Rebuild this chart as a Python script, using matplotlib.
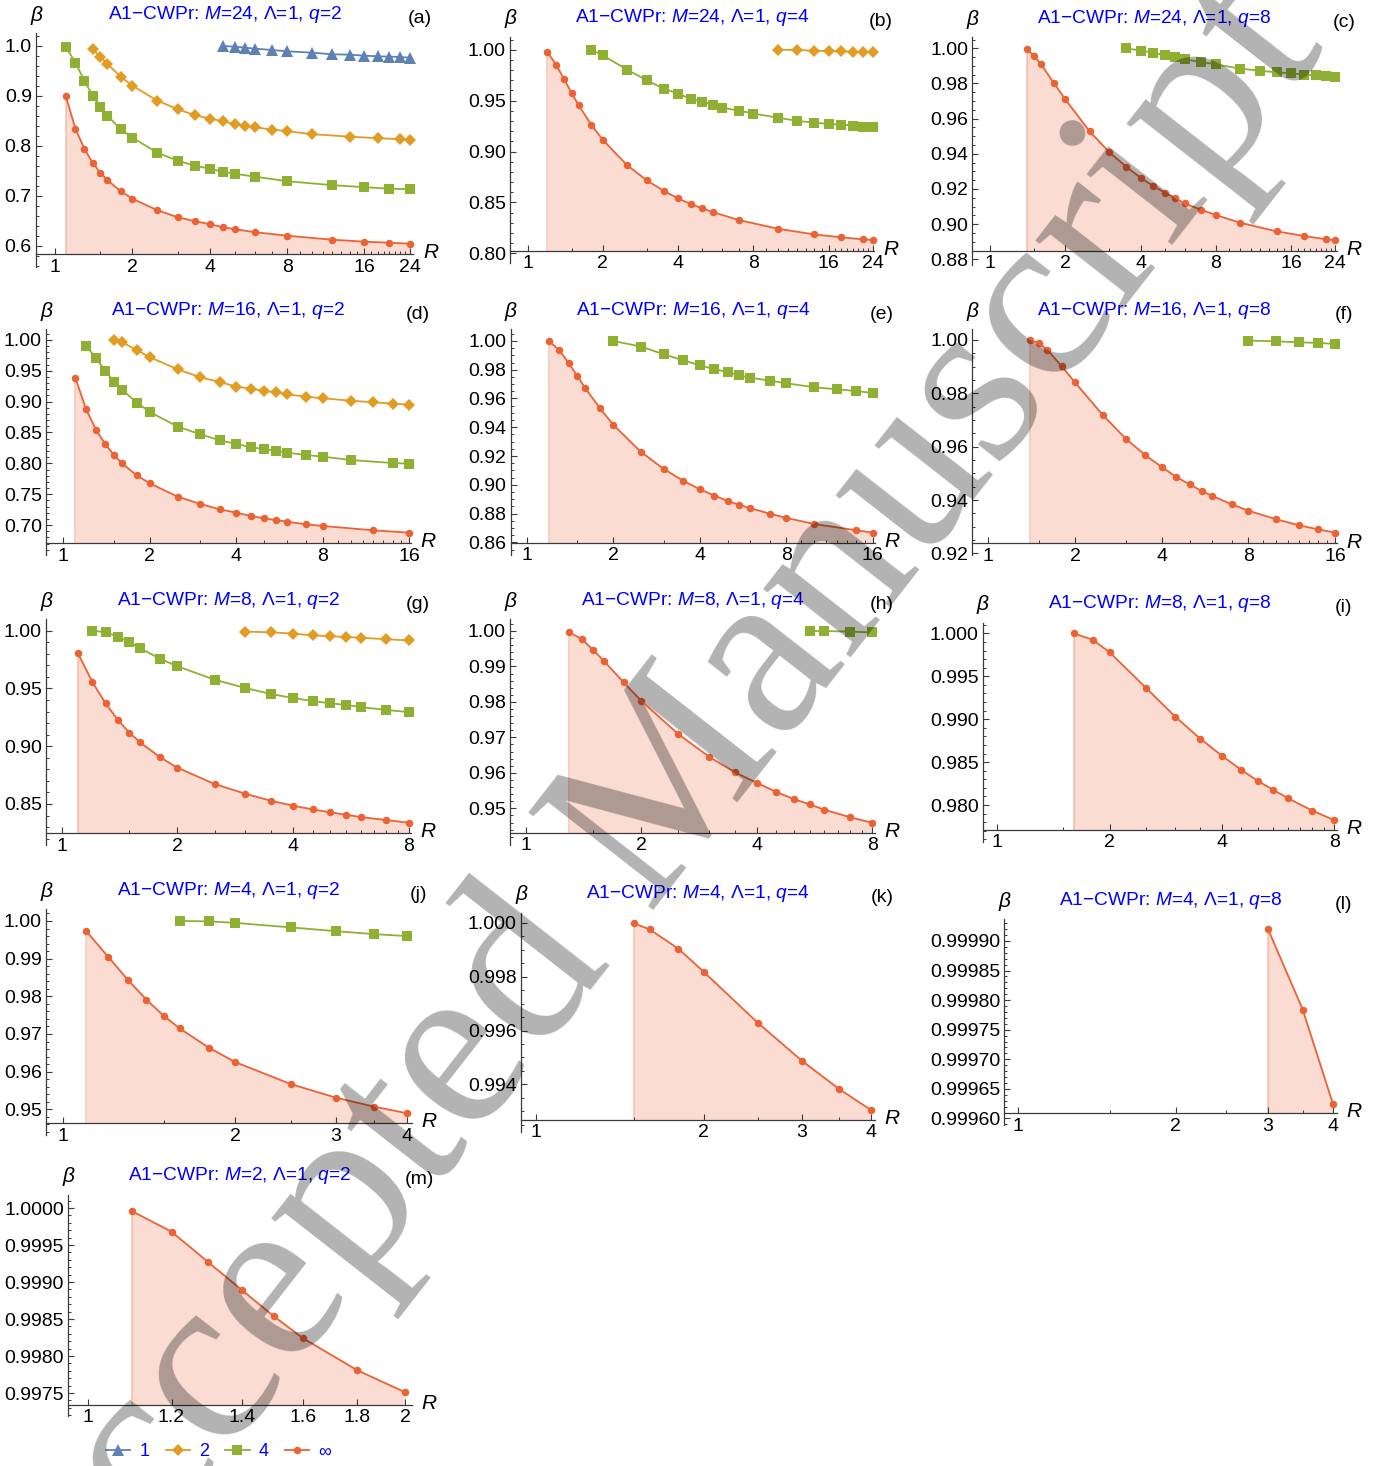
import numpy as np
import matplotlib
matplotlib.use("Agg")
import matplotlib.pyplot as plt
from matplotlib.ticker import FixedLocator, FixedFormatter, NullFormatter

plt.rcParams['font.family'] = ['Liberation Sans', 'DejaVu Sans']
plt.rcParams['mathtext.fontset'] = 'custom'
plt.rcParams['mathtext.rm'] = 'Liberation Sans'
plt.rcParams['mathtext.it'] = 'Liberation Sans:italic'
plt.rcParams['mathtext.bf'] = 'Liberation Sans:bold'

# ---------------- data: beta versus R for each (M, q) ----------------
# (a) M=24, q=2
R_a_1 = [4.5, 5, 5.5, 6, 7, 8, 10, 12, 14, 16, 18, 20, 22, 24]
B_a_1 = [0.9993, 0.998, 0.996, 0.994, 0.9913, 0.9887, 0.986, 0.9827, 0.982, 0.980, 0.9787, 0.978, 0.9773, 0.976]
R_a_2 = [1.4, 1.5, 1.6, 1.8, 2, 2.5, 3, 3.5, 4, 4.5, 5, 5.5, 6, 7, 8, 10, 14, 18, 22, 24]
B_a_2 = [0.993, 0.978, 0.963, 0.938, 0.920, 0.890, 0.873, 0.861, 0.854, 0.849, 0.843, 0.839, 0.837, 0.832, 0.829, 0.823, 0.818, 0.815, 0.813, 0.812]
R_a_4 = [1.1, 1.2, 1.3, 1.4, 1.5, 1.6, 1.8, 2, 2.5, 3, 3.5, 4, 4.5, 5, 6, 8, 12, 16, 20, 24]
B_a_4 = [0.998, 0.966, 0.930, 0.900, 0.878, 0.860, 0.833, 0.816, 0.786, 0.770, 0.760, 0.754, 0.748, 0.744, 0.738, 0.729, 0.721, 0.717, 0.714, 0.713]
R_a_inf = [1.1, 1.2, 1.3, 1.4, 1.5, 1.6, 1.8, 2, 2.5, 3, 3.5, 4, 4.5, 5, 6, 8, 12, 16, 20, 24]
B_a_inf = [0.900, 0.834, 0.794, 0.766, 0.746, 0.731, 0.709, 0.694, 0.671, 0.657, 0.649, 0.643, 0.637, 0.633, 0.627, 0.620, 0.612, 0.608, 0.606, 0.604]

# (b) M=24, q=4
R_b_2 = [10, 12, 14, 16, 18, 20, 22, 24]
B_b_2 = [1.000, 0.9997, 0.9990, 0.9987, 0.9984, 0.9980, 0.9977, 0.9977]
R_b_4 = [1.8, 2, 2.5, 3, 3.5, 4, 4.5, 5, 5.5, 6, 7, 8, 10, 12, 14, 16, 18, 20, 22, 24]
B_b_4 = [1.000, 0.9944, 0.9804, 0.9699, 0.9618, 0.9569, 0.9516, 0.9490, 0.9461, 0.9431, 0.9402, 0.9373, 0.9333, 0.9301, 0.9284, 0.9271, 0.9265, 0.9255, 0.9245, 0.9239]
R_b_inf = [1.2, 1.3, 1.4, 1.5, 1.6, 1.8, 2, 2.5, 3, 3.5, 4, 4.5, 5, 5.5, 7, 10, 14, 18, 22, 24]
B_b_inf = [0.9977, 0.9853, 0.9709, 0.9575, 0.9454, 0.9261, 0.9114, 0.8866, 0.8716, 0.8614, 0.8539, 0.8484, 0.8441, 0.8405, 0.8327, 0.8242, 0.8186, 0.8157, 0.8137, 0.8131]

# (c) M=24, q=8
R_c_4 = [3.5, 4, 4.5, 5, 5.5, 6, 7, 8, 10, 12, 14, 16, 18, 20, 22, 24]
B_c_4 = [1.000, 0.9987, 0.9975, 0.9960, 0.9949, 0.9937, 0.9922, 0.9909, 0.9884, 0.9873, 0.9863, 0.9858, 0.9850, 0.9846, 0.9841, 0.9835]
R_c_inf = [1.4, 1.5, 1.6, 1.8, 2, 2.5, 3, 3.5, 4, 4.5, 5, 5.5, 6, 7, 8, 10, 14, 18, 22, 24]
B_c_inf = [0.9994, 0.9958, 0.9909, 0.9803, 0.9710, 0.9528, 0.9409, 0.9327, 0.9264, 0.9217, 0.9179, 0.9149, 0.9118, 0.9081, 0.9052, 0.9008, 0.8959, 0.8933, 0.8914, 0.8908]

# (d) M=16, q=2
R_d_2 = [1.5, 1.6, 1.8, 2, 2.5, 3, 3.5, 4, 4.5, 5, 5.5, 6, 7, 8, 10, 12, 14, 16]
B_d_2 = [1.000, 0.9962, 0.9838, 0.9719, 0.9524, 0.9395, 0.9319, 0.9243, 0.9211, 0.9173, 0.9151, 0.9119, 0.9081, 0.9054, 0.9016, 0.8989, 0.8968, 0.8951]
R_d_4 = [1.2, 1.3, 1.4, 1.5, 1.6, 1.8, 2, 2.5, 3, 3.5, 4, 4.5, 5, 5.5, 6, 7, 8, 10, 14, 16]
B_d_4 = [0.9903, 0.9703, 0.9497, 0.9324, 0.9195, 0.8984, 0.8832, 0.8595, 0.8470, 0.8373, 0.8314, 0.8259, 0.8232, 0.8200, 0.8173, 0.8135, 0.8108, 0.8054, 0.8005, 0.7995]
R_d_inf = [1.1, 1.2, 1.3, 1.4, 1.5, 1.6, 1.8, 2, 2.5, 3, 3.5, 4, 4.5, 5, 5.5, 6, 7, 8, 12, 16]
B_d_inf = [0.9389, 0.8876, 0.8541, 0.8308, 0.8135, 0.8000, 0.7805, 0.7676, 0.7459, 0.7341, 0.7254, 0.7200, 0.7146, 0.7108, 0.7081, 0.7054, 0.7011, 0.6984, 0.6914, 0.6876]

# (e) M=16, q=4
R_e_4 = [2, 2.5, 3, 3.5, 4, 4.5, 5, 5.5, 6, 7, 8, 10, 12, 14, 16]
B_e_4 = [1.000, 0.9961, 0.9907, 0.9866, 0.9831, 0.9803, 0.9785, 0.9761, 0.9745, 0.9724, 0.9706, 0.9678, 0.9664, 0.9652, 0.9638]
R_e_inf = [1.2, 1.3, 1.4, 1.5, 1.6, 1.8, 2, 2.5, 3, 3.5, 4, 4.5, 5, 5.5, 6, 7, 8, 10, 14, 16]
B_e_inf = [0.9998, 0.9935, 0.9847, 0.9757, 0.9671, 0.9532, 0.9418, 0.9228, 0.9110, 0.9029, 0.8969, 0.8925, 0.8888, 0.8860, 0.8837, 0.8800, 0.8770, 0.8728, 0.8684, 0.8668]

# (f) M=16, q=8
R_f_4 = [8, 10, 12, 14, 16]
B_f_4 = [0.99975, 0.9995, 0.9991, 0.9989, 0.9985]
R_f_inf = [1.4, 1.5, 1.6, 1.8, 2, 2.5, 3, 3.5, 4, 4.5, 5, 5.5, 6, 7, 8, 10, 12, 14, 16]
B_f_inf = [0.9999, 0.9988, 0.9964, 0.9901, 0.9841, 0.9718, 0.9630, 0.9569, 0.9524, 0.9486, 0.9459, 0.9434, 0.9415, 0.9384, 0.9360, 0.9328, 0.9305, 0.9290, 0.9278]

# (g) M=8, q=2
R_g_2 = [3, 3.5, 4, 4.5, 5, 5.5, 6, 7, 8]
B_g_2 = [0.9991, 0.9986, 0.9974, 0.9959, 0.9951, 0.9945, 0.9939, 0.9925, 0.9916]
R_g_4 = [1.2, 1.3, 1.4, 1.5, 1.6, 1.8, 2, 2.5, 3, 3.5, 4, 4.5, 5, 5.5, 6, 7, 8]
B_g_4 = [1.000, 0.9986, 0.9948, 0.9899, 0.9847, 0.9758, 0.9691, 0.9576, 0.9504, 0.9452, 0.9417, 0.9391, 0.9371, 0.9357, 0.9339, 0.9313, 0.9296]
R_g_inf = [1.1, 1.2, 1.3, 1.4, 1.5, 1.6, 1.8, 2, 2.5, 3, 3.5, 4, 4.5, 5, 5.5, 6, 7, 8]
B_g_inf = [0.9810, 0.9559, 0.9371, 0.9227, 0.9117, 0.9033, 0.8906, 0.8814, 0.8673, 0.8589, 0.8528, 0.8485, 0.8453, 0.8428, 0.8407, 0.8387, 0.8361, 0.8338]

# (h) M=8, q=4
R_h_4 = [5.5, 6, 7, 8]
B_h_4 = [1.000, 1.000, 0.9998, 0.9996]
R_h_inf = [1.3, 1.4, 1.5, 1.6, 1.8, 2, 2.5, 3, 3.5, 4, 4.5, 5, 5.5, 6, 7, 8]
B_h_inf = [0.9996, 0.9977, 0.9946, 0.9915, 0.9855, 0.9803, 0.9709, 0.9646, 0.9602, 0.9572, 0.9546, 0.9526, 0.9511, 0.9496, 0.9475, 0.9459]

# (i) M=8, q=8
R_i_inf = [1.6, 1.8, 2, 2.5, 3, 3.5, 4, 4.5, 5, 5.5, 6, 7, 8]
B_i_inf = [1.0000, 0.99926, 0.99779, 0.99367, 0.99029, 0.98773, 0.98575, 0.98412, 0.98280, 0.98175, 0.98082, 0.97934, 0.97825]

# (j) M=4, q=2
R_j_4 = [1.6, 1.8, 2, 2.5, 3, 3.5, 4]
B_j_4 = [1.0000, 0.9999, 0.9995, 0.9983, 0.9973, 0.9965, 0.9960]
R_j_inf = [1.1, 1.2, 1.3, 1.4, 1.5, 1.6, 1.8, 2, 2.5, 3, 3.5, 4]
B_j_inf = [0.99726, 0.99053, 0.98434, 0.97912, 0.97487, 0.97150, 0.96637, 0.96257, 0.95673, 0.95310, 0.95071, 0.94894]

# (k) M=4, q=4
R_k_inf = [1.5, 1.6, 1.8, 2, 2.5, 3, 3.5, 4]
B_k_inf = [0.99998, 0.99975, 0.99904, 0.99818, 0.99629, 0.99488, 0.99383, 0.99304]

# (l) M=4, q=8
R_l_inf = [3, 3.5, 4]
B_l_inf = [0.999921, 0.999784, 0.999624]

# (m) M=2, q=2
R_m_inf = [1.1, 1.2, 1.3, 1.4, 1.5, 1.6, 1.8, 2.0]
B_m_inf = [0.99996, 0.99968, 0.99927, 0.99889, 0.99854, 0.99824, 0.99781, 0.99751]

legend_labels = ['1', '2', '4', '\u221e']

# ---------------- styling ----------------
COL = {'1': '#5E81B5', '2': '#E19C24', '4': '#8FB032', 'inf': '#EB6235'}
MARK = {'1': ('^', 8.2), '2': ('D', 6.4), '4': ('s', 7.0), 'inf': ('o', 5.4)}
AXC = '#3a3a3a'
W, H = 1375, 1466
TICK_FS = 14

minor24 = [1.5, 3, 5, 6, 7] + list(range(9, 16)) + list(range(17, 24))
minor16 = [1.5, 3, 5, 6, 7] + list(range(9, 16))
minor8 = [1.5, 2.5, 3, 3.5, 4.5, 5, 5.5, 6, 6.5, 7, 7.5]
minor4 = [1.5, 2.5, 3.5]

panels = [
    dict(tag='a', M=24, q=2, series={'1': (R_a_1, B_a_1), '2': (R_a_2, B_a_2), '4': (R_a_4, B_a_4), 'inf': (R_a_inf, B_a_inf)},
         box=(36, 413.3, 33.3, 266.7), xlim=(0.843, 24.8), ylim=(0.558, 1.0247), origin=0.5827,
         ystep=0.1, ndiv=5, fmt='%.1f', xmaj=[1, 2, 4, 8, 16, 24], xmin=minor24),
    dict(tag='b', M=24, q=4, series={'2': (R_b_2, B_b_2), '4': (R_b_4, B_b_4), 'inf': (R_b_inf, B_b_inf)},
         box=(510, 874, 36.7, 263.3), xlim=(0.850, 24.3), ylim=(0.7902, 1.0128), origin=0.8026,
         ystep=0.05, ndiv=5, fmt='%.2f', xmaj=[1, 2, 4, 8, 16, 24], xmin=minor24),
    dict(tag='c', M=24, q=8, series={'4': (R_c_4, B_c_4), 'inf': (R_c_inf, B_c_inf)},
         box=(972.3, 1336.7, 37.3, 265), xlim=(0.85, 24.3), ylim=(0.87678, 1.00626), origin=0.88493,
         ystep=0.02, ndiv=4, fmt='%.2f', xmaj=[1, 2, 4, 8, 16, 24], xmin=minor24),
    dict(tag='d', M=16, q=2, series={'2': (R_d_2, B_d_2), '4': (R_d_4, B_d_4), 'inf': (R_d_inf, B_d_inf)},
         box=(46, 410.7, 329.3, 555), xlim=(0.870, 16.17), ylim=(0.6514, 1.0173), origin=0.6703,
         ystep=0.05, ndiv=5, fmt='%.2f', xmaj=[1, 2, 4, 8, 16], xmin=minor16),
    dict(tag='e', M=16, q=4, series={'4': (R_e_4, B_e_4), 'inf': (R_e_inf, B_e_inf)},
         box=(510.7, 875, 329.3, 555), xlim=(0.88, 16.3), ylim=(0.8512, 1.0081), origin=0.8598,
         ystep=0.02, ndiv=4, fmt='%.2f', xmaj=[1, 2, 4, 8, 16], xmin=minor16),
    dict(tag='f', M=16, q=8, series={'4': (R_f_4, B_f_4), 'inf': (R_f_inf, B_f_inf)},
         box=(972.3, 1336.7, 329.3, 555), xlim=(0.88, 16.2), ylim=(0.9194, 1.004), origin=0.92375,
         ystep=0.02, ndiv=4, fmt='%.2f', xmaj=[1, 2, 4, 8, 16], xmin=minor16),
    dict(tag='g', M=8, q=2, series={'2': (R_g_2, B_g_2), '4': (R_g_4, B_g_4), 'inf': (R_g_inf, B_g_inf)},
         box=(46, 410.7, 619.3, 845), xlim=(0.91, 8.1), ylim=(0.8145, 1.0098), origin=0.82458,
         ystep=0.05, ndiv=5, fmt='%.2f', xmaj=[1, 2, 4, 8], xmin=minor8),
    dict(tag='h', M=8, q=4, series={'4': (R_h_4, B_h_4), 'inf': (R_h_inf, B_h_inf)},
         box=(510, 875, 619.3, 845), xlim=(0.91, 8.13), ylim=(0.93966, 1.00329), origin=0.94295,
         ystep=0.01, ndiv=5, fmt='%.2f', xmaj=[1, 2, 4, 8], xmin=minor8, ytick_lo=0.9415),
    dict(tag='i', M=8, q=8, series={'inf': (R_i_inf, B_i_inf)},
         box=(982.7, 1336.7, 622.7, 841.7), xlim=(0.913, 8.13), ylim=(0.97573, 1.00124), origin=0.97709,
         ystep=0.005, ndiv=5, fmt='%.3f', xmaj=[1, 2, 4, 8], xmin=minor8),
    dict(tag='j', M=4, q=2, series={'4': (R_j_4, B_j_4), 'inf': (R_j_inf, B_j_inf)},
         box=(46, 411.7, 909.3, 1135), xlim=(0.935, 4.07), ylim=(0.94319, 1.0031), origin=0.94628,
         ystep=0.01, ndiv=5, fmt='%.2f', xmaj=[1, 2, 3, 4], xmin=minor4),
    dict(tag='k', M=4, q=4, series={'inf': (R_k_inf, B_k_inf)},
         box=(521, 875, 912.7, 1131.7), xlim=(0.94, 4.06), ylim=(0.992245, 1.000371), origin=0.992678,
         ystep=0.002, ndiv=4, fmt='%.3f', xmaj=[1, 2, 3, 4], xmin=minor4),
    dict(tag='l', M=4, q=8, series={'inf': (R_l_inf, B_l_inf)},
         box=(1004.3, 1336.7, 919.3, 1125), xlim=(0.94, 4.065), ylim=(0.9995889, 0.9999366), origin=0.9996086,
         ystep=0.00005, ndiv=5, fmt='%.5f', xmaj=[1, 2, 3, 4], xmin=minor4),
    dict(tag='m', M=2, q=2, series={'inf': (R_m_inf, B_m_inf)},
         box=(68, 412, 1195, 1416), xlim=(0.957, 2.03), ylim=(0.99719, 1.000176), origin=0.997338,
         ystep=0.0005, ndiv=5, fmt='%.4f', xmaj=[1, 1.2, 1.4, 1.6, 1.8, 2], xmin=[]),
]


def tick_values(lo, hi, step):
    k0 = int(np.ceil(lo / step - 1e-6))
    k1 = int(np.floor(hi / step + 1e-6))
    return [round(k * step, 8) for k in range(k0, k1 + 1)]


fig = plt.figure(figsize=(W / 100, H / 100), dpi=100)
handles = {}

for p in panels:
    x0, x1, yt, yb = p['box']
    ax = fig.add_axes([x0 / W, 1 - yb / H, (x1 - x0) / W, (yb - yt) / H])
    ax.set_xscale('log')
    ax.set_xlim(*p['xlim'])
    ax.set_ylim(*p['ylim'])
    ax.patch.set_alpha(0)

    for s in ('top', 'right'):
        ax.spines[s].set_visible(False)
    ax.spines['bottom'].set_position(('data', p['origin']))
    for s in ('left', 'bottom'):
        ax.spines[s].set_color(AXC)
        ax.spines[s].set_linewidth(0.9)

    # filling under the q -> infinity curve down to the axis
    Ri, Bi = p['series']['inf']
    ax.fill_between(Ri, Bi, p['origin'], color=COL['inf'], alpha=0.22, lw=0, zorder=1)
    ax.vlines(Ri[0], p['origin'], Bi[0], color=COL['inf'], alpha=0.35, lw=1.2, zorder=1)

    for key in ('1', '2', '4', 'inf'):
        if key not in p['series']:
            continue
        R, B = p['series'][key]
        mk, ms = MARK[key]
        ln, = ax.plot(R, B, color=COL[key], lw=1.3, marker=mk, ms=ms, mew=0,
                      clip_on=False, zorder=3)
        handles.setdefault(key, ln)

    # ticks
    ax.xaxis.set_major_locator(FixedLocator(p['xmaj']))
    ax.xaxis.set_major_formatter(FixedFormatter(['%g' % v for v in p['xmaj']]))
    ax.xaxis.set_minor_locator(FixedLocator(p['xmin']))
    ax.xaxis.set_minor_formatter(NullFormatter())
    ylo = p.get('ytick_lo', p['ylim'][0])
    ymaj = tick_values(ylo, p['ylim'][1], p['ystep'])
    ymin = tick_values(ylo, p['ylim'][1], p['ystep'] / p['ndiv'])
    ax.yaxis.set_major_locator(FixedLocator(ymaj))
    ax.yaxis.set_major_formatter(FixedFormatter([p['fmt'] % v for v in ymaj]))
    ax.yaxis.set_minor_locator(FixedLocator([v for v in ymin if v not in ymaj]))
    ax.yaxis.set_minor_formatter(NullFormatter())
    ax.tick_params(which='major', direction='in', length=4.0, width=0.8, color=AXC,
                   labelsize=TICK_FS, pad=3)
    ax.tick_params(which='minor', direction='in', length=2.2, width=0.7, color=AXC)

    # annotations
    cx = (x0 + x1) / 2
    fig.text(cx / W, 1 - (yt - 19) / H,
             r'A1$-$CWPr: $M$=%d, $\Lambda$=1, $q$=%d' % (p['M'], p['q']),
             color='#0000FF', fontsize=13.8, ha='center', va='center')
    fig.text(x0 / W, 1 - (yt - 18) / H, '\u03b2', style='italic', fontsize=15,
             ha='center', va='center')
    fig.text((x1 + 7) / W, 1 - (yt - 15) / H, '(%s)' % p['tag'], fontsize=14,
             ha='center', va='center')
    ax.annotate('R', xy=(1.0, p['origin']), xycoords=('axes fraction', 'data'),
                xytext=(7, 1), textcoords='offset points',
                style='italic', fontsize=15, ha='left', va='center')

# legend along the bottom
leg = fig.legend([handles[k] for k in ('1', '2', '4', 'inf')], legend_labels,
                 loc='center left', bbox_to_anchor=(106 / W, 14 / H), ncol=4,
                 frameon=False, fontsize=13, handlelength=1.35, handletextpad=0.5,
                 columnspacing=0.9, numpoints=1, borderpad=0, borderaxespad=0)
for t in leg.get_texts():
    t.set_color('#0000FF')

# diagonal watermark across the page
fig.text(643 / W, 1 - 829 / H, 'Accepted Manuscript', family='Liberation Serif',
         fontsize=174, rotation=52, color='black', alpha=0.3, ha='center', va='center',
         rotation_mode='anchor', zorder=20)

fig.savefig('out.png', dpi=100)
